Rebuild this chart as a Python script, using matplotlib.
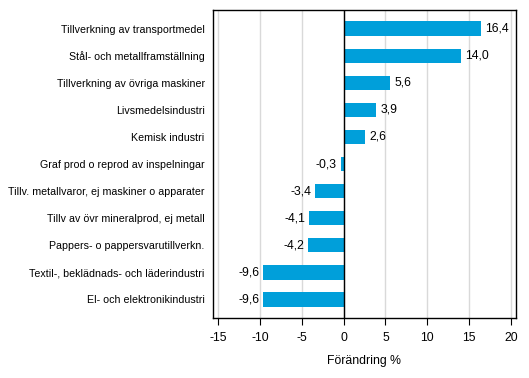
import matplotlib
matplotlib.use("Agg")
import matplotlib.pyplot as plt

categories = [
    "Tillverkning av transportmedel",
    "Stål- och metallframställning",
    "Tillverkning av övriga maskiner",
    "Livsmedelsindustri",
    "Kemisk industri",
    "Graf prod o reprod av inspelningar",
    "Tillv. metallvaror, ej maskiner o apparater",
    "Tillv av övr mineralprod, ej metall",
    "Pappers- o pappersvarutillverkn.",
    "Textil-, beklädnads- och läderindustri",
    "El- och elektronikindustri",
]
values = [16.4, 14.0, 5.6, 3.9, 2.6, -0.3, -3.4, -4.1, -4.2, -9.6, -9.6]
xticks = [-15, -10, -5, 0, 5, 10, 15, 20]
xlabel = "Förändring %"

plt.rcParams['font.family'] = ['Liberation Sans', 'DejaVu Sans']
fs = 7.7
fs2 = 8.8

fig = plt.figure(figsize=(5.29, 3.78), dpi=100)
ax = fig.add_axes([0.4026, 0.1587, 0.5728, 0.8148])

y = list(range(len(categories)))
ax.barh(y, values, height=0.55, color='#009fda', zorder=3)
ax.set_ylim(len(categories) - 0.3, -0.7)
ax.set_xlim(-15.6, 20.6)
ax.set_yticks(y)
ax.set_yticklabels(categories, fontsize=fs)
ax.set_xticks(xticks)
ax.set_xticklabels([str(t) for t in xticks], fontsize=fs2)
ax.set_xlabel(xlabel, fontsize=fs2, labelpad=8)
ax.tick_params(axis='y', length=0, pad=6)
ax.tick_params(axis='x', length=5, width=0.8, color='black', pad=5)
ax.grid(axis='x', color='#d9d9d9', linewidth=1, zorder=0)
ax.axvline(0, color='black', linewidth=1, zorder=4)
for s in ax.spines.values():
    s.set_linewidth(1)

for yi, v in zip(y, values):
    lab = f"{v:.1f}".replace('.', ',')
    if v >= 0:
        ax.text(v + 0.5, yi, lab, va='center', ha='left', fontsize=fs2)
    else:
        ax.text(v - 0.5, yi, lab, va='center', ha='right', fontsize=fs2)

fig.savefig("out.png", dpi=100)
